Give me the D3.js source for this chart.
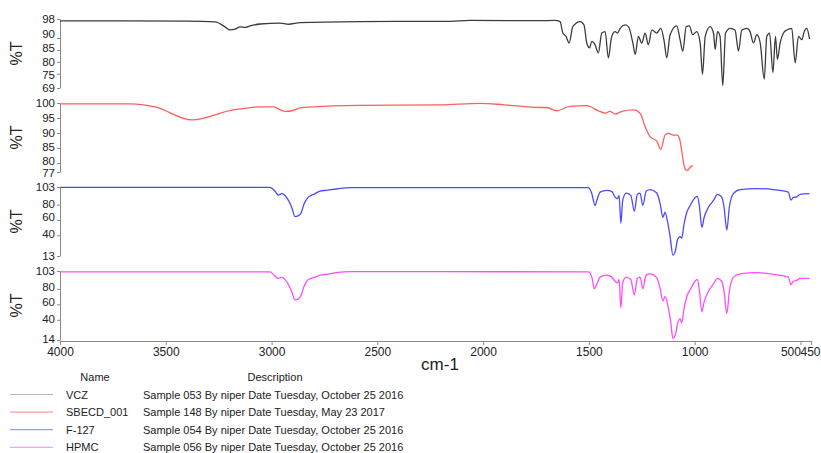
<!DOCTYPE html>
<html>
<head>
<meta charset="utf-8">
<title>FTIR spectra</title>
<script src="https://d3js.org/d3.v7.min.js"></script>
<style>
  body { margin: 0; background: #fff; }
  svg text { font-family: "Liberation Sans", Arial, Helvetica, sans-serif; fill: #222; }
  .axis path, .axis line { stroke: #8a8a8a; }
  .axis text { font-size: 12px; fill: #222; }
  .yaxis text { font-size: 11.5px; }
  .spec { fill: none; stroke-width: 1.3; stroke-linejoin: round; }
</style>
</head>
<body>
<script>
// series data: wavenumber (cm-1) and %T
var vczWn = [4000,3700,3400,3267,3220,3196,3173,3149,3125,3102,3054,2960,2920,2865,2582,2300,2156,2062,1731,1660,
  1636,1623,1608,1593,1576,1541,1523,1510,1497,1486,1471,1455,1439,1423,1408,1392,1376,1365,1352,1329,1313,1292,1281,
  1266,1250,1234,1219,1202,1179,1160,1144,1132,1116,1084,1069,1056,1040,1025,1009,990,974,963,950,927,911,903,892,880,
  867,854,832,809,793,777,753,738,722,706,690,671,659,646,630,618,609,596,580,564,541,525,509,493,482,470,457];
var vczT = [97.2,97.2,97.1,96.8,94.7,93.4,93.7,94.7,94.5,95.1,95.9,96.3,95.8,96.5,96.9,97.0,97.0,97.4,97.3,97.4,
  96.9,92.1,90.7,87.9,94.8,96.9,95.5,87.9,85.9,88.6,87.2,83.8,92.1,92.7,81.7,90.7,92.7,92.1,94.1,95.5,94.8,87.9,83.1,
  90.7,87.9,92.1,87.2,93.4,92.1,94.1,88.6,81.7,91.4,95.1,89.3,84.5,94.8,95.1,91.4,92.7,87.9,74.8,90.7,94.8,92.1,85.2,92.7,90.7,
  70.0,92.1,94.1,93.4,84.5,93.4,94.1,92.7,87.9,91.4,87.9,72.7,90.7,92.1,75.5,90.7,81.0,87.9,92.1,93.4,94.1,79.6,90.7,89.3,92.7,94.1,89.6];

var sbeWn = [4000,3669,3551,3377,3182,3054,2993,2936,2898,2865,2804,2582,2200,2014,1900,1731,1699,1652,1589,1510,1455,1423,
  1400,1376,1344,1289,1258,1234,1210,1179,1160,1140,1124,1100,1081,1072,1045,1034,1021,1009];
var sbeT = [99.7,99.7,98.7,94.4,97.7,98.7,98.7,97.2,97.5,98.4,98.7,99.2,99.4,99.9,99.4,98.5,98.5,97.4,98.9,99.1,97.4,96.6,
  97.2,96.3,97.2,97.7,96.6,92.1,88.7,87.3,84.6,89.3,89.9,89.3,89.3,88.2,78.0,77.5,78.6,79.2];

var f127Wn = [4000,3007,2984,2968,2952,2925,2905,2889,2873,2861,2846,2826,2794,2771,2742,2692,2629,1502,1486,1471,1460,1447,
  1415,1392,1376,1365,1357,1349,1340,1324,1302,1285,1271,1258,1245,1229,1210,1179,1163,1150,1140,1129,1116,1103,1092,1081,
  1069,1061,1050,1037,1021,998,987,977,966,955,935,911,892,872,861,848,836,817,785,706,628,557,545,533,520,501,457];
var f127T = [102.5,102.5,97.7,92.5,94.3,87.7,76.6,64.4,65.7,68.7,81.1,89.8,94.3,97.7,98.7,100.4,102.2,102.2,94.3,78.9,87.7,96.4,
  98.7,97.3,89.8,87.7,92.1,55.6,85.5,95.1,92.1,71.4,93.4,95.1,78.9,97.7,99.6,95.1,81.1,63.5,70.1,59.1,38.4,14.3,18.7,34.1,
  38.4,36.3,54.8,70.1,78.9,89.0,90.7,76.6,50.3,63.5,76.6,85.5,93.4,89.8,76.6,46.9,76.6,94.3,99.6,100.9,99.6,96.4,85.9,89.4,89.8,93.4,94.3];

var hpmcWn = [4000,3007,2984,2968,2952,2925,2905,2889,2873,2861,2846,2826,2794,2771,2742,2692,2629,1502,1486,1474,1460,1447,
  1415,1392,1376,1365,1357,1349,1340,1324,1302,1285,1271,1258,1245,1229,1210,1179,1163,1150,1140,1124,1113,1103,1092,1081,
  1069,1061,1050,1037,1021,998,987,977,966,955,935,911,892,872,861,848,836,817,785,706,628,557,545,533,520,501,457];
var hpmcT = [102,102,96.4,93.4,95.1,87.6,76.7,65.8,67.1,71.4,83.3,92.1,95.1,97.7,98.7,100.8,102.1,102,95.1,80.2,87.6,95.1,
  97.7,95.1,89.8,87.6,92.1,55.6,87.6,95.1,92.1,72.3,93.4,95.1,80.2,97.7,99.4,94.2,80.2,64.4,70.1,54.7,37.2,16.2,19.7,35,
  41.6,36.3,54.7,70.1,78.9,89.8,92.1,76.7,50.4,63.5,76.7,86.3,93.4,89.8,76.7,48.1,76.7,95.1,99.4,100.8,98.7,95.1,85.5,89.8,90.5,93.4,93.4];

var names = ["VCZ", "SBECD_001", "F-127", "HPMC"];
var descriptions = [
  "Sample 053 By niper Date Tuesday, October 25 2016",
  "Sample 148 By niper Date Tuesday, May 23 2017",
  "Sample 054 By niper Date Tuesday, October 25 2016",
  "Sample 056 By niper Date Tuesday, October 25 2016"
];
var yDomains = [[69, 98], [77, 100], [13, 103], [14, 103]];
var yTicks = [[69, 75, 80, 85, 90, 98], [77, 80, 85, 90, 95, 100], [13, 40, 60, 80, 103], [14, 40, 60, 80, 103]];
var xTicks = [4000, 3500, 3000, 2500, 2000, 1500, 1000, 500, 450];

var colors = ["#3c3c3c", "#ff5f5f", "#4a4aff", "#ff4cff"];
var legendColors = ["#b8b8b8", "#ff9c9c", "#9a9aff", "#ff9cff"];

var width = 821, height = 453;
var left = 60, right = 811;
var panelTop = 19, panelH = 69, panelStep = 84;

// small vertical nudges of the tick labels, as the instrument software spreads them
var labelNudge = [
  {90: -4, 85: -2, 75: 1.5},
  {80: -2.5, 85: -1, 77: 0.5},
  {80: -1, 60: -3.5, 40: -1.5},
  {80: -2, 60: -3, 40: -1.5, 14: -1}
];

var seriesWn = [vczWn, sbeWn, f127Wn, hpmcWn];
var seriesT = [vczT, sbeT, f127T, hpmcT];

var svg = d3.select("body").append("svg")
    .attr("width", width)
    .attr("height", height);

var x = d3.scaleLinear().domain([4000, 450]).range([left, right]);

seriesWn.forEach(function(wn, i) {
  var top = panelTop + i * panelStep;
  var y = d3.scaleLinear().domain(yDomains[i]).range([top + panelH, top]);

  var ax = svg.append("g")
      .attr("class", "axis yaxis")
      .attr("transform", "translate(" + left + ",0)")
      .call(d3.axisLeft(y).tickValues(yTicks[i]).tickSize(3).tickSizeOuter(0).tickPadding(2));

  ax.selectAll(".tick text")
      .attr("y", function(d) { return labelNudge[i][d] || 0; });

  svg.append("text")
      .attr("transform", "translate(22," + (top + panelH / 2) + ") rotate(-90)")
      .attr("text-anchor", "middle")
      .style("font-size", "16px")
      .text("%T");

  var pts = wn.map(function(w, j) { return [w, seriesT[i][j]]; });
  var line = d3.line()
      .x(function(d) { return x(d[0]); })
      .y(function(d) { return y(d[1]); })
      .curve(d3.curveMonotoneX);

  svg.append("path")
      .attr("class", "spec")
      .attr("d", line(pts))
      .style("stroke", colors[i]);
});

// bottom axis
var xAxisY = panelTop + 3 * panelStep + panelH + 1;
var xa = svg.append("g")
    .attr("class", "axis")
    .attr("transform", "translate(0," + xAxisY + ")")
    .call(d3.axisBottom(x).tickValues(xTicks).tickSize(4).tickSizeOuter(0).tickPadding(2).tickFormat(d3.format("d")));

// the last two labels sit side by side ("500450")
xa.selectAll(".tick text")
    .attr("dx", function(d) { return d === 500 ? -10 : (d === 450 ? -1 : 0); });

svg.append("text")
    .attr("x", 440)
    .attr("y", xAxisY + 29)
    .attr("text-anchor", "middle")
    .style("font-size", "17px")
    .text("cm-1");

// legend table
var lg = svg.append("g");
lg.append("text").attr("x", 95).attr("y", 381).attr("text-anchor", "middle")
    .style("font-size", "11px").text("Name");
lg.append("text").attr("x", 275).attr("y", 381).attr("text-anchor", "middle")
    .style("font-size", "11px").text("Description");

names.forEach(function(n, i) {
  var cy = 394.5 + i * 17.6;
  lg.append("line")
      .attr("x1", 10).attr("x2", 53)
      .attr("y1", cy).attr("y2", cy)
      .style("stroke", legendColors[i])
      .style("stroke-width", 1.2);
  lg.append("text").attr("x", 66).attr("y", cy + 4)
      .style("font-size", "11px").text(n);
  lg.append("text").attr("x", 143).attr("y", cy + 4)
      .style("font-size", "11px").text(descriptions[i]);
});
</script>
</body>
</html>
